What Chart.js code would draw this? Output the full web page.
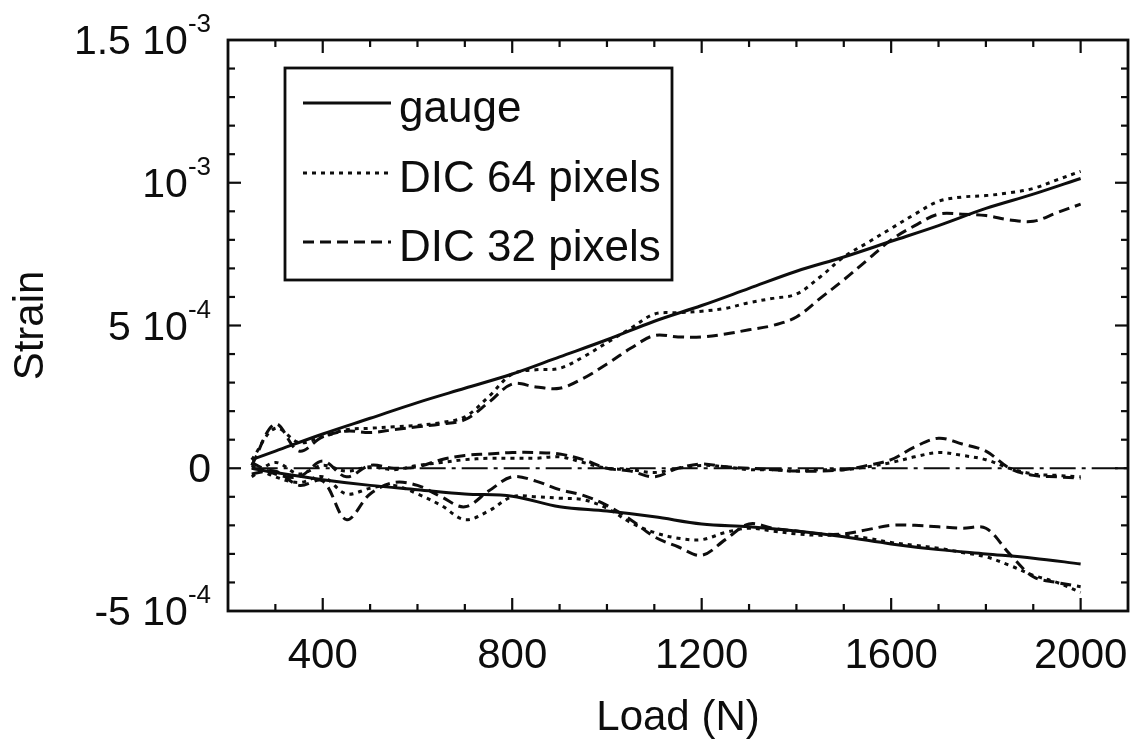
<!DOCTYPE html>
<html><head><meta charset="utf-8">
<script src="https://cdn.jsdelivr.net/npm/chart.js@4/dist/chart.umd.min.js"></script>
<style>html,body{margin:0;padding:0;background:#fff}#wrap{width:1148px;height:753px;position:relative}</style>
</head><body><div id="wrap"><canvas id="c" width="1148" height="753"></canvas></div>
<script>
// ---- data (strain values in units of 1e-4) ----
const gaugeLoads = [250,300,400,500,600,700,800,900,1000,1100,1200,1300,1400,1500,1600,1700,1800,1900,2000];
const gaugeUpper = [0.3,0.6,1.2,1.75,2.3,2.8,3.3,3.9,4.5,5.15,5.7,6.3,6.9,7.4,7.95,8.5,9.1,9.6,10.15];
const gaugeLower = [0,-0.15,-0.4,-0.6,-0.75,-0.9,-0.98,-1.35,-1.5,-1.7,-1.95,-2.05,-2.2,-2.4,-2.65,-2.85,-3.0,-3.15,-3.35];

const dicLoads = [250,300,350,400,450,500,550,600,650,700,750,800,850,900,950,1000,1050,1100,1150,1200,1250,1300,1350,1400,1450,1500,1550,1600,1650,1700,1750,1800,1850,1900,1950,2000];
const dic64Upper = [0.3,1.4,0.9,1.1,1.35,1.4,1.45,1.5,1.6,1.8,2.5,3.3,3.45,3.5,3.9,4.4,4.9,5.4,5.45,5.5,5.6,5.8,5.95,6.1,6.7,7.4,7.9,8.4,8.9,9.35,9.5,9.55,9.65,9.8,10.1,10.4];
const dic32Upper = [0.1,1.55,0.6,1.1,1.3,1.25,1.35,1.45,1.55,1.7,2.3,2.95,2.85,2.8,3.15,3.65,4.2,4.65,4.6,4.6,4.7,4.85,5.0,5.3,5.95,6.6,7.3,8.0,8.5,8.9,8.9,8.85,8.7,8.65,8.95,9.25];
const dic64Mid = [-0.3,0.2,-0.2,0.1,-0.1,0.05,-0.05,0.1,0.2,0.3,0.35,0.35,0.35,0.4,0.2,0.0,-0.05,-0.15,0.0,0.1,0.05,-0.05,-0.05,-0.1,-0.05,-0.05,0.05,0.2,0.4,0.55,0.45,0.3,0.0,-0.2,-0.25,-0.3];
const dic32Mid = [0.2,-0.2,-0.3,0.25,-0.3,0.1,0.0,0.05,0.3,0.45,0.5,0.55,0.55,0.5,0.3,0.0,-0.1,-0.3,0.0,0.15,0.05,0.0,-0.05,-0.1,-0.1,-0.05,0.1,0.3,0.75,1.05,0.85,0.6,0.0,-0.25,-0.3,-0.35];
const dic64Lower = [0.1,-0.3,-0.5,-0.3,-0.9,-0.7,-0.6,-0.9,-1.3,-1.8,-1.5,-1.0,-1.0,-1.05,-1.1,-1.4,-1.9,-2.25,-2.45,-2.5,-2.25,-2.1,-2.2,-2.3,-2.35,-2.35,-2.45,-2.6,-2.7,-2.8,-2.95,-3.1,-3.4,-3.75,-4.0,-4.35];
const dic32Lower = [-0.2,-0.1,-0.6,-0.45,-1.8,-0.9,-0.5,-0.6,-1.0,-1.35,-0.8,-0.3,-0.45,-0.75,-0.95,-1.3,-1.8,-2.4,-2.75,-3.05,-2.5,-1.95,-2.1,-2.2,-2.3,-2.3,-2.15,-2.0,-2.0,-2.05,-2.1,-2.1,-3.0,-3.8,-4.0,-4.15];

const zeroLoads = [250,2100];
const zeroVals = [0,0];

const seriesLabels = ["gauge","DIC 64 pixels","DIC 32 pixels"];
const xTicks = [400,800,1200,1600,2000];
const xTickLabels = ["400","800","1200","1600","2000"];
const yTicks = [-5,0,5,10,15];
const yTickBase = ["-5 10","0","5 10","10","1.5 10"];
const yTickExp = ["-4","","-4","-3","-3"];
const xTitle = "Load (N)";
const yTitle = "Strain";

// ---- build ----
const pts = (xs, ys) => xs.map((x,i)=>({x:x, y:ys[i]}));
const INK = '#0d0d0d';
const SOLID = [], DOT = [4,5], DASH = [11,6];
function ds(label, xs, ys, dash, legend){
  return {label:label, data:pts(xs,ys), borderColor:INK, borderWidth:3, borderDash:dash,
          pointRadius:0, tension:0.35, fill:false, showLine:true, _legend:legend};
}
const datasets = [
  ds(seriesLabels[0], gaugeLoads, gaugeUpper, SOLID, true),
  ds(seriesLabels[0], gaugeLoads, gaugeLower, SOLID, false),
  ds(seriesLabels[1], dicLoads, dic64Upper, DOT, true),
  ds(seriesLabels[1], dicLoads, dic64Mid, DOT, false),
  ds(seriesLabels[1], dicLoads, dic64Lower, DOT, false),
  ds(seriesLabels[2], dicLoads, dic32Upper, DASH, true),
  ds(seriesLabels[2], dicLoads, dic32Mid, DASH, false),
  ds(seriesLabels[2], dicLoads, dic32Lower, DASH, false),
  {label:'zero', data:pts(zeroLoads, zeroVals), borderColor:INK, borderWidth:2.2, borderDash:[26,6,4,6],
   pointRadius:0, tension:0, showLine:true, _legend:false}
];

const FONT = '"Liberation Sans", Arial, Helvetica, sans-serif';

const framePlugin = {
  id:'frame',
  afterDraw(chart){
    const ctx = chart.ctx, a = chart.chartArea, xs = chart.scales.x, ys = chart.scales.y;
    ctx.save();
    ctx.strokeStyle = INK; ctx.fillStyle = INK; ctx.setLineDash([]);
    // frame
    ctx.lineWidth = 2.8;
    ctx.strokeRect(a.left, a.top, a.right - a.left, a.bottom - a.top);
    // ticks (inward, all four sides)
    ctx.lineWidth = 2.2;
    for (let v = xs.min + 100; v < xs.max; v += 100) {
      const px = xs.getPixelForValue(v);
      const len = (v % 400 === 0) ? 13 : 7;
      ctx.beginPath(); ctx.moveTo(px, a.bottom); ctx.lineTo(px, a.bottom - len); ctx.stroke();
      ctx.beginPath(); ctx.moveTo(px, a.top); ctx.lineTo(px, a.top + len); ctx.stroke();
    }
    for (let v = ys.min + 1; v < ys.max; v += 1) {
      const py = ys.getPixelForValue(v);
      const len = (Math.round(v) % 5 === 0) ? 13 : 7;
      ctx.beginPath(); ctx.moveTo(a.left, py); ctx.lineTo(a.left + len, py); ctx.stroke();
      ctx.beginPath(); ctx.moveTo(a.right, py); ctx.lineTo(a.right - len, py); ctx.stroke();
    }
    // x tick labels
    ctx.font = '42px ' + FONT;
    ctx.textAlign = 'center'; ctx.textBaseline = 'middle';
    xTicks.forEach((v,i)=>{ ctx.fillText(xTickLabels[i], xs.getPixelForValue(v), 656); });
    // y tick labels with superscript exponent
    const rightEdge = 211;
    yTicks.forEach((v,i)=>{
      const py = ys.getPixelForValue(v);
      ctx.font = '26px ' + FONT;
      const ew = yTickExp[i] ? ctx.measureText(yTickExp[i]).width : 0;
      if (yTickExp[i]) {
        ctx.textAlign = 'right'; ctx.textBaseline = 'alphabetic';
        ctx.fillText(yTickExp[i], rightEdge, py - 8);
      }
      ctx.font = '41px ' + FONT;
      ctx.textAlign = 'right'; ctx.textBaseline = 'alphabetic';
      ctx.fillText(yTickBase[i], rightEdge - ew, py + 14);
    });
    // axis titles
    ctx.font = '42px ' + FONT;
    ctx.textAlign = 'center'; ctx.textBaseline = 'middle';
    ctx.fillText(xTitle, (a.left + a.right)/2, 718);
    ctx.save();
    ctx.translate(31, (a.top + a.bottom)/2);
    ctx.rotate(-Math.PI/2);
    ctx.fillText(yTitle, 0, 0);
    ctx.restore();
    // legend box
    const L = {x:285, y:68, w:387, h:212};
    ctx.fillStyle = '#fff';
    ctx.fillRect(L.x, L.y, L.w, L.h);
    ctx.lineWidth = 2.8; ctx.strokeStyle = INK;
    ctx.strokeRect(L.x, L.y, L.w, L.h);
    const rows = [103, 173, 242];
    const items = chart.data.datasets.filter(d => d._legend);
    ctx.font = '44px ' + FONT; ctx.textAlign = 'left'; ctx.textBaseline = 'alphabetic';
    items.forEach((d,i)=>{
      ctx.lineWidth = 2.8;
      ctx.setLineDash(d.borderDash || []);
      ctx.beginPath(); ctx.moveTo(303, rows[i]); ctx.lineTo(391, rows[i]); ctx.stroke();
      ctx.setLineDash([]);
      ctx.fillStyle = INK;
      ctx.fillText(d.label, 399, rows[i] + 19);
    });
    ctx.restore();
  }
};

new Chart(document.getElementById('c'), {
  type:'line',
  data:{datasets:datasets},
  options:{
    responsive:false, animation:false, devicePixelRatio:1,
    layout:{padding:{left:228, right:20, top:40, bottom:142}},
    plugins:{legend:{display:false}, tooltip:{enabled:false}},
    scales:{
      x:{type:'linear', min:200, max:2100, display:false},
      y:{type:'linear', min:-5, max:15, display:false}
    }
  },
  plugins:[framePlugin]
});
</script></body></html>
